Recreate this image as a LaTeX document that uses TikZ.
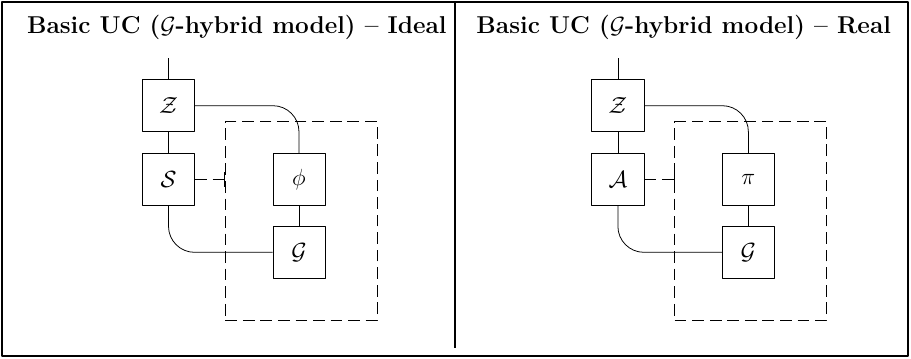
\documentclass[tikz,border=0pt]{standalone}
\usepackage{amsmath,amssymb}
\usepackage{tikz}
\usetikzlibrary{arrows.meta,positioning}
\tikzset{blk/.style={draw,minimum size=0.94cm,inner sep=0pt,font=\large},
  ttl/.style={anchor=base west,inner sep=0pt,font=\fontsize{12.5}{15}\selectfont\bfseries},
  hyb/.style={dash pattern=on 6pt off 3pt}}

\begin{document}
\begin{tikzpicture}[line join=round,wire/.style={rounded corners=0.47cm}]
\useasboundingbox (0,0) rectangle (16.42,-6.453);
\draw[line width=0.9pt] (0.036,-0.036) rectangle (16.367,-6.417); % frame
\draw[line width=1pt] (8.201,-0.036) -- (8.201,-6.273);            % divider
% --- ideal: simulator S next to phi, both on G
\begin{scope}
\node[ttl] (ti) at (0.481,-0.595) {Basic UC ($\mathcal{G}$-hybrid model) -- Ideal};
\node[hyb,draw,minimum width=2.74cm,minimum height=3.574cm] (hi) at (5.431,-3.981) {};
\node[blk] (zi) at (3.037,-1.905) {$\mathcal{Z}$};
\node[blk] (si) at (3.037,-3.232) {$\mathcal{S}$};
\node[blk] (fi) at (5.389,-3.232) {$\phi$};
\node[blk] (gi) at (5.389,-4.548) {$\mathcal{G}$};
\coordinate (ini) at (3.037,-1.051);
\draw (ini) -- (zi.north); \draw (zi) -- (si); \draw (fi) -- (gi);
\draw[wire] (zi.east) -| (fi.north);
\draw[wire] (si.south) |- (gi.west);
\draw[hyb,-{Bar[width=7.5pt]}] (si.east) -- (si.east -| hi.west);
\end{scope}
% --- real: adversary A next to pi, both on G
\begin{scope}[xshift=8.1cm]
\node[ttl] (tr) at (0.481,-0.595) {Basic UC ($\mathcal{G}$-hybrid model) -- Real};
\node[hyb,draw,minimum width=2.74cm,minimum height=3.574cm] (hr) at (5.431,-3.981) {};
\node[blk] (zr) at (3.037,-1.905) {$\mathcal{Z}$};
\node[blk] (ar) at (3.037,-3.232) {$\mathcal{A}$};
\node[blk] (pr) at (5.389,-3.232) {$\pi$};
\node[blk] (gr) at (5.389,-4.548) {$\mathcal{G}$};
\coordinate (inr) at (3.037,-1.051);
\draw (inr) -- (zr.north); \draw (zr) -- (ar); \draw (pr) -- (gr);
\draw[wire] (zr.east) -| (pr.north);
\draw[wire] (ar.south) |- (gr.west);
\draw[hyb,-{Bar[width=7.5pt]}] (ar.east) -- (ar.east -| hr.west);
\end{scope}
\end{tikzpicture}
\end{document}
